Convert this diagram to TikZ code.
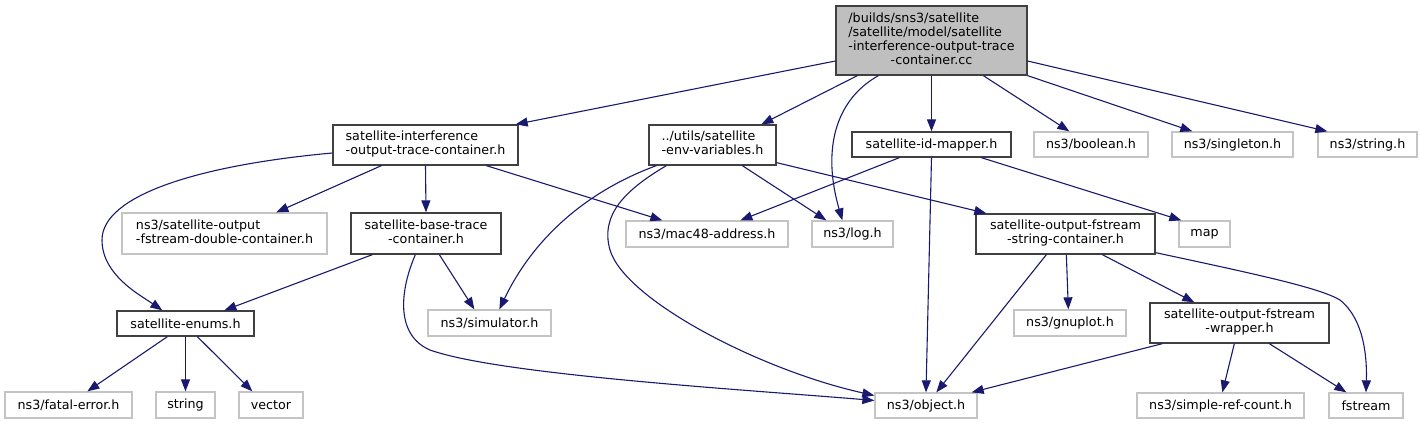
\documentclass[tikz,border=0pt]{standalone}
\usepackage{fontspec}
\setmainfont{DejaVu Sans}
\usepackage{tikz}
\usetikzlibrary{positioning,arrows.meta,calc}
\definecolor{edgec}{HTML}{191970}
\definecolor{boxline}{HTML}{404040}
\definecolor{sysline}{HTML}{C4C4C4}
\definecolor{rootfill}{HTML}{BFBFBF}
\newcommand{\lbl}[2]{%
  \begin{tabular}{@{}l@{}}#1\\\multicolumn{1}{@{}c@{}}{#2}\end{tabular}%
}
\tikzset{
  filebox/.style={rectangle,inner sep=0pt,line width=1.3pt,fill=white,
    font=\fontsize{12.7}{14}\selectfont},
  hdr/.style={filebox,draw=boxline},
  sys/.style={filebox,draw=sysline},
  srcfile/.style={filebox,draw=boxline,fill=rootfill},
  dep/.style={draw=edgec,line width=1.1pt,-{Triangle[length=12pt,width=9pt]}},
}

\begin{document}
\begin{tikzpicture}[x=1pt,y=-1pt]
  \useasboundingbox (0,0) rectangle (1422,424);

  % top: the source file and what it includes
  \node[srcfile,minimum width=191,minimum height=69] (root) at (931.5,40.5)
    {\lbl{/builds/sns3/satellite\\/satellite/model/satellite\\-interference-output-trace}{-container.cc}};
  \node[hdr,minimum width=185,minimum height=40] (intf) at (425.5,145)
    {\lbl{satellite-interference}{-output-trace-container.h}};
  \node[hdr,minimum width=127,minimum height=40] (env) at (712.5,145)
    {\lbl{../utils/satellite}{-env-variables.h}};
  \node[hdr,minimum width=159,minimum height=25] (idm) at (931.5,144.5) {satellite-id-mapper.h};
  \node[sys,minimum width=114,minimum height=25] (bool) at (1091,144.5) {ns3/boolean.h};
  \node[sys,minimum width=121,minimum height=25] (singl) at (1232.5,144.5) {ns3/singleton.h};
  \node[sys,minimum width=99,minimum height=25] (nsstr) at (1367.5,144.5) {ns3/string.h};

  % second row
  \node[sys,minimum width=205,minimum height=41] (dbl) at (224.5,233.5)
    {\lbl{ns3/satellite-output}{-fstream-double-container.h}};
  \node[hdr,minimum width=150,minimum height=41] (base) at (426,233.5)
    {\lbl{satellite-base-trace}{-container.h}};
  \node[sys,minimum width=162,minimum height=26] (mac) at (707,234) {ns3/mac48-address.h};
  \node[sys,minimum width=81,minimum height=26] (log) at (852.5,234) {ns3/log.h};
  \node[hdr,minimum width=179,minimum height=40] (strc) at (1065.5,234)
    {\lbl{satellite-output-fstream}{-string-container.h}};
  \node[sys,minimum width=51,minimum height=26] (map) at (1204.5,234) {map};

  % third row
  \node[hdr,minimum width=137,minimum height=25] (enums) at (185.5,323.5) {satellite-enums.h};
  \node[sys,minimum width=123,minimum height=26] (sim) at (489.5,323) {ns3/simulator.h};
  \node[sys,minimum width=112,minimum height=26] (gnu) at (1070,323) {ns3/gnuplot.h};
  \node[hdr,minimum width=179,minimum height=40] (wrap) at (1239.5,323)
    {\lbl{satellite-output-fstream}{-wrapper.h}};

  % bottom row
  \node[sys,minimum width=127,minimum height=26] (fatal) at (68.5,405) {ns3/fatal-error.h};
  \node[sys,minimum width=59,minimum height=26] (string) at (185.5,405) {string};
  \node[sys,minimum width=64,minimum height=26] (vector) at (271,405) {vector};
  \node[sys,minimum width=102,minimum height=25] (object) at (926,405.5) {ns3/object.h};
  \node[sys,minimum width=167,minimum height=25] (src) at (1220.5,405.5) {ns3/simple-ref-count.h};
  \node[sys,minimum width=74,minimum height=25] (fstream) at (1366,405.5) {fstream};

  % from the source file
  \draw[dep] ([yshift=-20.5pt]root.west) -- ([xshift=-3pt]intf.north east);
  \draw[dep] ([xshift=22pt]root.south west) -- ([xshift=113pt]env.north west);
  \draw[dep] ([xshift=43pt]root.south west) .. controls (835,100) and (822,150) .. ([xshift=31pt]log.north west);
  \draw[dep] (root.south) -- (idm.north);
  \draw[dep] ([xshift=148pt]root.south west) -- ([xshift=36pt]bool.north west);
  \draw[dep] (root.south east) -- ([xshift=21pt]singl.north west);
  \draw[dep] ([yshift=-20.5pt]root.east) -- ([xshift=10pt]nsstr.north west);

  % interference header
  \draw[dep] ([yshift=-8pt]intf.west) .. controls (200,165) and (102,195) .. (102,240)
    .. controls (102,275) and (140,295) .. ([xshift=46pt]enums.north west);
  \draw[dep] ([xshift=49pt]intf.south west) -- ([xshift=155pt]dbl.north west);
  \draw[dep] (intf.south) -- (base.north);
  \draw[dep] ([xshift=154pt]intf.south west) -- ([xshift=37pt]mac.north west);

  % env variables
  \draw[dep] ([xshift=8pt]env.south west) .. controls (590,190) and (535,235) .. ([xshift=72pt]sim.north west);
  \draw[dep] ([xshift=18pt]env.south west) .. controls (625,190) and (600,215) .. (610,250)
    .. controls (625,300) and (760,370) .. ([yshift=10pt]object.west);
  \draw[dep] ([xshift=94pt]env.south west) -- ([xshift=15pt]log.north west);
  \draw[dep] ([yshift=3pt]env.south east) -- ([xshift=11pt]strc.north west);

  % id mapper
  \draw[dep] ([xshift=48pt]idm.south west) -- ([xshift=115pt]mac.north west);
  \draw[dep] (idm.south) -- (object.north);
  \draw[dep] ([xshift=130pt]idm.south west) -- ([xshift=3pt]map.north west);

  % base trace container
  \draw[dep] ([xshift=22pt]base.south west) -- ([xshift=108pt]enums.north west);
  \draw[dep] ([xshift=89pt]base.south west) -- ([xshift=47pt]sim.north west);
  \draw[dep] ([xshift=65pt]base.south west) .. controls (400,290) and (395,335) .. (430,350)
    .. controls (500,375) and (750,390) .. ([yshift=5pt]object.west);

  % enums
  \draw[dep] ([xshift=51pt]enums.south west) -- ([xshift=83pt]fatal.north west);
  \draw[dep] (enums.south) -- (string.north);
  \draw[dep] ([xshift=81pt]enums.south west) -- ([xshift=14pt]vector.north west);

  % string container
  \draw[dep] ([xshift=71pt]strc.south west) -- ([xshift=62pt]object.north west);
  \draw[dep] ([xshift=91pt]strc.south west) -- ([xshift=55pt]gnu.north west);
  \draw[dep] ([xshift=127pt]strc.south west) -- ([xshift=45pt]wrap.north west);
  \draw[dep] ([yshift=2pt]strc.south east) .. controls (1260,275) and (1320,288) .. (1340,300)
    .. controls (1365,320) and (1367,360) .. (fstream.north);

  % wrapper
  \draw[dep] ([xshift=13pt]wrap.south west) -- ([xshift=-6pt]object.north east);
  \draw[dep] ([xshift=85pt]wrap.south west) -- ([xshift=86pt]src.north west);
  \draw[dep] ([xshift=120pt]wrap.south west) -- ([xshift=18pt]fstream.north west);
\end{tikzpicture}
\end{document}
